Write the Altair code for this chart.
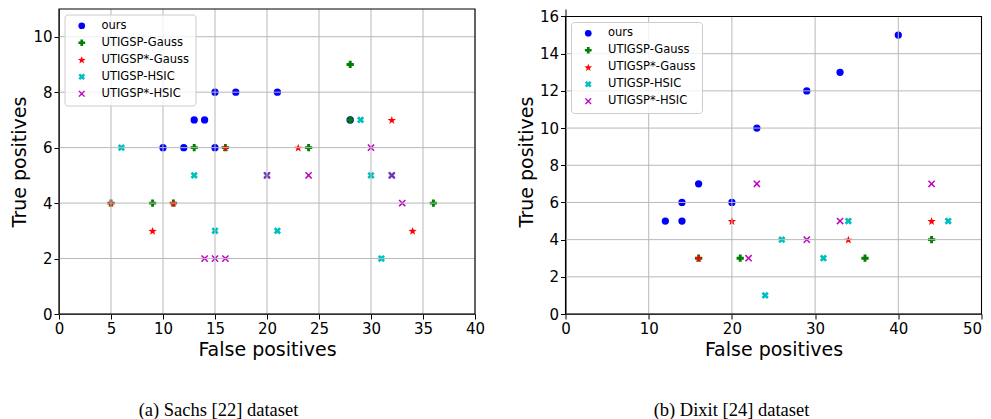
import altair as alt
import numpy as np
import pandas as pd

methods = ["ours", "UTIGSP-Gauss", "UTIGSP*-Gauss", "UTIGSP-HSIC", "UTIGSP*-HSIC"]
colors = ["#0000ff", "#008000", "#ff0000", "#00bfbf", "#bf00bf"]

# (a) Sachs dataset: false positives / true positives
sachs_ours_fp = [10, 12, 13, 14, 15, 15, 17, 21, 28]
sachs_ours_tp = [6, 6, 7, 7, 6, 8, 8, 8, 7]
sachs_gauss_fp = [5, 9, 11, 13, 16, 24, 28, 28, 36]
sachs_gauss_tp = [4, 4, 4, 6, 6, 6, 9, 7, 4]
sachs_sgauss_fp = [5, 9, 11, 16, 23, 32, 34]
sachs_sgauss_tp = [4, 3, 4, 6, 6, 7, 3]
sachs_hsic_fp = [6, 13, 15, 20, 21, 29, 30, 31, 32]
sachs_hsic_tp = [6, 5, 3, 5, 3, 7, 5, 2, 5]
sachs_shsic_fp = [14, 15, 16, 20, 24, 30, 32, 33]
sachs_shsic_tp = [2, 2, 2, 5, 5, 6, 5, 4]

# (b) Dixit dataset
dixit_ours_fp = [12, 14, 14, 16, 20, 23, 29, 33, 40]
dixit_ours_tp = [5, 5, 6, 7, 6, 10, 12, 13, 15]
dixit_gauss_fp = [16, 21, 36, 44]
dixit_gauss_tp = [3, 3, 3, 4]
dixit_sgauss_fp = [16, 20, 34, 44]
dixit_sgauss_tp = [3, 5, 4, 5]
dixit_hsic_fp = [24, 26, 31, 34, 46]
dixit_hsic_tp = [1, 4, 3, 5, 5]
dixit_shsic_fp = [22, 23, 29, 33, 44]
dixit_shsic_tp = [3, 7, 4, 5, 7]

sachs_ticks_x = [0, 5, 10, 15, 20, 25, 30, 35, 40]
sachs_ticks_y = [0, 2, 4, 6, 8, 10]
sachs_ymax = 11
dixit_ticks_x = [0, 10, 20, 30, 40, 50]
dixit_ticks_y = [0, 2, 4, 6, 8, 10, 12, 14, 16]
dixit_ymax = 16


def poly_path(pts):
    return "M" + "L".join(f"{x:.3f},{y:.3f}" for x, y in pts) + "Z"


def x_shape(w):
    base = [(-1, -w), (-w, -w), (-w, -1), (w, -1), (w, -w), (1, -w),
            (1, w), (w, w), (w, 1), (-w, 1), (-w, w), (-1, w)]
    c = np.sqrt(0.5)
    rot = [((x - y) * c, (x + y) * c) for x, y in base]
    m = max(max(abs(a), abs(b)) for a, b in rot)
    return poly_path([(a / m, b / m) for a, b in rot])


def star_shape(inner=0.40, scale=1.2):
    pts = []
    for k in range(10):
        r = (1.0 if k % 2 == 0 else inner) * scale
        a = np.deg2rad(-90 + 36 * k)
        pts.append((r * np.cos(a), r * np.sin(a) + 0.1 * scale))
    return poly_path(pts)


shapes = ["circle", "cross", star_shape(), x_shape(0.36), x_shape(0.17)]


def make_df(series):
    rows = []
    i = 0
    for name, (fp, tp) in zip(methods, series):
        for a, b in zip(fp, tp):
            rows.append({"fp": a, "tp": b, "method": name, "idx": i})
            i += 1
    return pd.DataFrame(rows)


sachs_df = make_df([(sachs_ours_fp, sachs_ours_tp), (sachs_gauss_fp, sachs_gauss_tp),
                    (sachs_sgauss_fp, sachs_sgauss_tp), (sachs_hsic_fp, sachs_hsic_tp),
                    (sachs_shsic_fp, sachs_shsic_tp)])
dixit_df = make_df([(dixit_ours_fp, dixit_ours_tp), (dixit_gauss_fp, dixit_gauss_tp),
                    (dixit_sgauss_fp, dixit_sgauss_tp), (dixit_hsic_fp, dixit_hsic_tp),
                    (dixit_shsic_fp, dixit_shsic_tp)])

GRID = "#b8b8b8"


def panel(df, xticks, yticks, ymax, h_full, h_plot, caption, dx, w, flush_last=False):
    # y domain extended so that the frame (0..ymax) occupies h_plot px at the bottom of h_full
    ytop = ymax * h_full / h_plot
    xs = alt.Scale(domain=[xticks[0], xticks[-1]], nice=False, zero=False)
    ys = alt.Scale(domain=[0, ytop], nice=False, zero=False)
    xkw = {}
    if flush_last:
        xkw["labelAlign"] = {"condition": {"test": f"datum.value >= {xticks[-1]}", "value": "right"},
                             "value": "center"}
    ax_x = alt.Axis(values=xticks, title="False positives", titlePadding=4, **xkw)
    ax_y = alt.Axis(values=yticks, title="True positives", titlePadding=3)
    legend = alt.Legend(
        title=None, orient="none", legendX=5.5, legendY=(h_full - h_plot) + 5.5, padding=5.5,
        fillColor="rgba(255,255,255,0.8)", strokeColor="#cccccc", cornerRadius=3,
        labelFont="DejaVu Sans", labelFontSize=11.5, labelColor="black",
        symbolSize=45, symbolOffset=6, labelOffset=14, rowPadding=4,
        symbolStrokeWidth=0, zindex=1,
    )
    points = alt.Chart(df).mark_point(filled=True, opacity=1, size=53, strokeWidth=0).encode(
        x=alt.X("fp:Q", scale=xs, axis=ax_x, title="False positives"),
        y=alt.Y("tp:Q", scale=ys, axis=ax_y, title="True positives"),
        color=alt.Color("method:N", scale=alt.Scale(domain=methods, range=colors), legend=legend),
        shape=alt.Shape("method:N", scale=alt.Scale(domain=methods, range=shapes), legend=legend),
        order=alt.Order("idx:Q"),
    )
    gx = alt.Chart(pd.DataFrame({"v": xticks})).mark_rule(color=GRID, strokeWidth=1).encode(
        x=alt.X("v:Q", scale=xs, axis=ax_x, title="False positives"),
        y=alt.Y(datum=0, scale=ys, axis=ax_y, title="True positives"), y2=alt.datum(ymax))
    gy = alt.Chart(pd.DataFrame({"v": yticks})).mark_rule(color=GRID, strokeWidth=1).encode(
        y=alt.Y("v:Q", scale=ys, axis=ax_y, title="True positives"))
    frame = alt.Chart(pd.DataFrame({"a": [0]})).mark_rect(
        filled=False, fillOpacity=0, stroke="black", strokeWidth=1.1).encode(
        x=alt.X(datum=xticks[0], scale=xs, axis=ax_x, title="False positives"),
        x2=alt.datum(xticks[-1]),
        y=alt.Y(datum=0, scale=ys, axis=ax_y, title="True positives"), y2=alt.datum(ymax))
    return alt.layer(points, gx, gy, frame).properties(
        width=w, height=h_full,
        title=alt.TitleParams(caption, orient="bottom", anchor="middle", frame="group", dx=dx,
                              offset=42, baseline="top", font="Liberation Serif", fontSize=18.5,
                              fontWeight="normal", color="black"),
    )


left = panel(sachs_df, sachs_ticks_x, sachs_ticks_y, sachs_ymax, 305, 305,
             "(a) Sachs [22] dataset", -48.5, 416)
right = panel(dixit_df, dixit_ticks_x, dixit_ticks_y, dixit_ymax, 305, 297.5,
              "(b) Dixit [24] dataset", -42, 416, flush_last=True)

chart = alt.hconcat(left, right, spacing=31.5).resolve_scale(
    color="independent", shape="independent"
).properties(padding={"left": 2, "top": 0, "right": 0, "bottom": 0}).configure_view(
    stroke=None
).configure_axis(
    grid=False, domainColor="black", tickColor="black", tickSize=5, labelPadding=2,
    labelFont="DejaVu Sans", labelFontSize=15, labelColor="black", labelFlush=False,
    labelOverlap=False, titleFont="DejaVu Sans", titleFontSize=19, titleFontWeight="normal",
    titleColor="black",
)

chart.save("out.html", embed_options={"renderer": "svg", "actions": False})
